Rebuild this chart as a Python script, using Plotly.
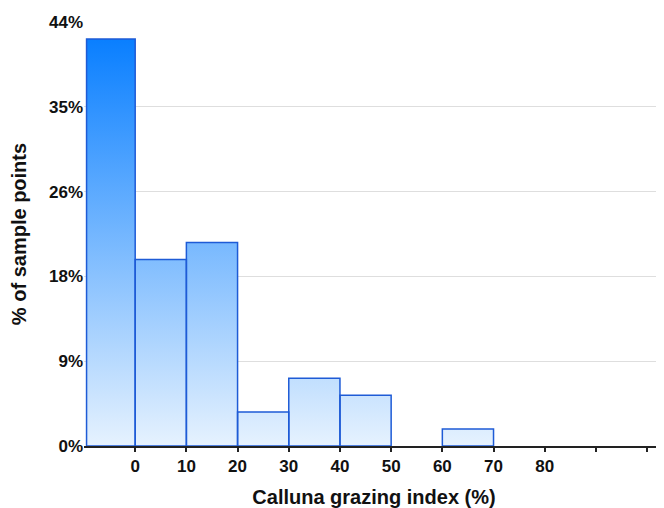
import plotly.graph_objects as go

# Histogram data (percent of 57 sample points)
bin_left = [-9.5, 0, 10, 20, 30, 40, 50, 60]
bin_right = [0, 10, 20, 30, 40, 50, 60, 70]
pct_values = [42.1, 19.3, 21.05, 3.51, 7.02, 5.26, 0.0, 1.75]

y_tickvals = [0, 8.77, 17.54, 26.32, 35.09, 43.86]
y_ticktext = ["0%", "9%", "18%", "26%", "35%", "44%"]
x_tickvals = [0, 10, 20, 30, 40, 50, 60, 70, 80, 90, 100]
x_ticktext = ["0", "10", "20", "30", "40", "50", "60", "70", "80", "", ""]

ymax = y_tickvals[-1]

xs, ys = [], []
for l, r, v in zip(bin_left, bin_right, pct_values):
    if v <= 0:
        continue
    xs += [l, l, r, r, l, None]
    ys += [0, v, v, 0, 0, None]

fig = go.Figure()
fig.add_trace(go.Scatter(
    x=xs, y=ys, mode="lines", fill="toself",
    line=dict(color="#1E5BD6", width=1.5),
    fillgradient=dict(type="vertical",
                      colorscale=[[0, "#E6F2FE"], [1, "#007AFF"]],
                      start=0, stop=ymax),
    hoverinfo="skip", showlegend=False,
))

font_family = "Liberation Sans, Arial, sans-serif"
fig.update_layout(
    width=656, height=500,
    margin=dict(l=76, r=0, t=14, b=62, autoexpand=False),
    plot_bgcolor="white", paper_bgcolor="white",
    font=dict(family=font_family, color="#111111"),
    xaxis=dict(
        range=[-10, 103.3], tickmode="array", tickvals=x_tickvals, ticktext=x_ticktext,
        ticks="outside", ticklen=4, tickwidth=1.5, tickcolor="#222222",
        showline=True, linecolor="#222222", linewidth=2,
        showgrid=False, zeroline=False, automargin=False,
        tickfont=dict(size=17, weight="bold", color="#111111"),
        title=dict(text="Calluna grazing index (%)", standoff=16,
                   font=dict(size=20, weight="bold", color="#111111")),
    ),
    yaxis=dict(
        range=[0, ymax], tickmode="array", tickvals=y_tickvals, ticktext=y_ticktext,
        ticks="", showline=False, showgrid=False, zeroline=False, automargin=False,
        minor=dict(tickvals=y_tickvals[1:-1], showgrid=True, gridcolor="#DEDEDE",
                   gridwidth=1, ticks=""),
        tickfont=dict(size=17, weight="bold", color="#111111"),
        title=dict(text="% of sample points", standoff=16,
                   font=dict(size=20, weight="bold", color="#111111")),
    ),
)

fig.write_html("out.html")
